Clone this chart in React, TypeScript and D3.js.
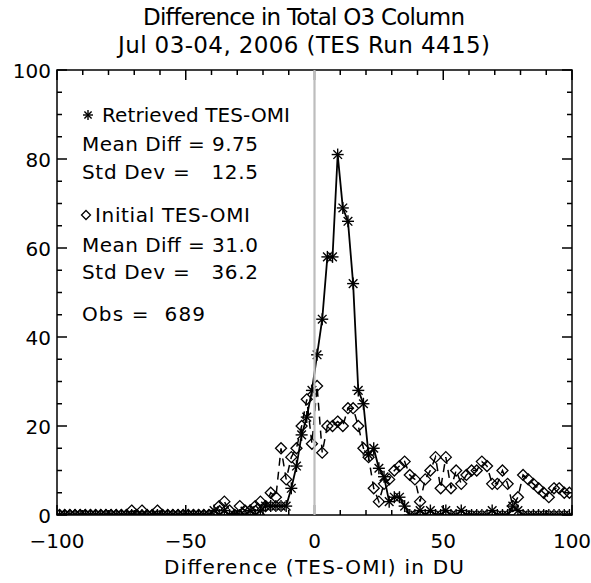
import React from "react";
import * as d3 from "d3";

// Bin centres of the histogram (2 DU bins)
const binCenters: number[] = d3.range(-99, 100, 2);

// Retrieved TES-OMI histogram counts (one per bin, from -99 to 99)
const retrieved: number[] = [
  0, 0, 0, 0, 0, 0, 0, 0, 0, 0, // -99..-81
  0, 0, 0, 0, 0, 0, 0, 0, 0, 0, // -79..-61
  0, 0, 0, 0, 0, 0, 0, 0, 0, 0, // -59..-41
  1, 0, 1, 0, 0, 0, 0, 1, 0, 1, // -39..-21
  2, 2, 2, 2, 2, 6, 11, 18, 22, 28, // -19..-1
  36, 44, 58, 58, 81, 69, 66, 52, 28, 25, // 1..19
  13.5, 15, 10.5, 8.6, 3, 4, 4, 2, 0, 0, // 21..39
  1, 0, 1, 0, 0, 1, 0, 0, 1, 0, // 41..59
  0, 0, 0, 0, 1, 0, 0, 0, 2, 1, // 61..79
  0, 0, 0, 0, 0, 0, 0, 0, 0, 0, // 81..99
];

// Initial TES-OMI histogram counts
const initial: number[] = [
  0, 0, 0, 0, 0, 0, 0, 0, 0, 0, // -99..-81
  0, 0, 0, 0, 1, 0, 1, 0, 0, 1, // -79..-61
  0, 0, 0, 0, 0, 0, 0, 0, 0, 0, // -59..-41
  0, 2, 3, 1, 0, 2, 1, 1, 2, 3, // -39..-21
  2, 5, 4, 15, 8, 13, 15, 20, 26, 16, // -19..-1
  29, 14, 20, 20, 21, 20, 24, 24, 20, 15, // 1..19
  13, 6, 3, 7, 8, 10, 11, 12, 9, 8, // 21..39
  3, 8, 10, 13, 6, 13, 6, 10, 7, 9, // 41..59
  10, 10, 12, 11, 7, 7, 10, 7, 2, 4, // 61..79
  9, 8, 7, 6, 5, 4, 6, 6, 5, 5, // 81..99
];

const xMajorTicks = [-100, -50, 0, 50, 100];
const xMinorTicks: number[] = d3.range(-100, 101, 10);
const yMajorTicks = [0, 20, 40, 60, 80, 100];
const yMinorTicks: number[] = d3.range(0, 101, 5);

const titleLines = [
  "Difference in Total O3 Column",
  "Jul 03-04, 2006 (TES Run 4415)",
];
const xLabel = "Difference (TES-OMI) in DU";
const legendRetrieved = ["Retrieved TES-OMI", "Mean Diff = 9.75", "Std Dev =   12.5"];
const legendInitial = ["Initial TES-OMI", "Mean Diff = 31.0", "Std Dev =   36.2"];
const obsText = "Obs =  689";

const W = 591;
const H = 583;
const M = { left: 57, right: 572, top: 70, bottom: 515 };
const FONT = "'DejaVu Sans', sans-serif";

function Star({ x, y, r = 6 }: { x: number; y: number; r?: number }) {
  const d = r * 0.72;
  return (
    <g stroke="#000" strokeWidth={1.4}>
      <line x1={x} y1={y - r} x2={x} y2={y + r} />
      <line x1={x - r} y1={y} x2={x + r} y2={y} />
      <line x1={x - d} y1={y - d} x2={x + d} y2={y + d} />
      <line x1={x - d} y1={y + d} x2={x + d} y2={y - d} />
    </g>
  );
}

function Diamond({ x, y, r = 5.5 }: { x: number; y: number; r?: number }) {
  return (
    <path
      d={`M${x},${y - r}L${x + r},${y}L${x},${y + r}L${x - r},${y}Z`}
      fill="none"
      stroke="#000"
      strokeWidth={1.3}
    />
  );
}

function Txt(props: { x: number; y: number; w?: number; size?: number; anchor?: string; children: string }) {
  const { x, y, w, size = 20, anchor = "start", children } = props;
  return (
    <text
      x={x}
      y={y}
      fontSize={size}
      fill="#000"
      textAnchor={anchor as any}
      style={{ whiteSpace: "pre" }}
      {...(w ? { textLength: w, lengthAdjust: "spacing" } : {})}
    >
      {children}
    </text>
  );
}

export default function App() {
  const x = d3.scaleLinear().domain([-100, 100]).range([M.left, M.right]);
  const y = d3.scaleLinear().domain([0, 100]).range([M.bottom, M.top]);

  const line = d3
    .line<number>()
    .x((_, i) => x(binCenters[i]))
    .y((d) => y(d));

  const retrievedPath = line(retrieved) || "";
  const initialPath = line(initial) || "";

  const majorLen = 10;
  const minorLen = 5;

  return (
    <svg
      width={W}
      height={H}
      style={{ position: "absolute", left: 0, top: 0, background: "#fff" }}
      fontFamily={FONT}
    >
      <rect x={0} y={0} width={W} height={H} fill="#fff" />
      <defs>
        <clipPath id="plotClip">
          <rect x={M.left} y={M.top} width={M.right - M.left} height={M.bottom - M.top} />
        </clipPath>
      </defs>

      {/* Title */}
      <Txt x={304} y={25} size={23} anchor="middle" w={322}>{titleLines[0]}</Txt>
      <Txt x={304} y={53} size={23} anchor="middle" w={372}>{titleLines[1]}</Txt>

      {/* Data */}
      <g clipPath="url(#plotClip)">
        <path d={initialPath} fill="none" stroke="#000" strokeWidth={1.5} strokeDasharray="8,6" />
        <path d={retrievedPath} fill="none" stroke="#000" strokeWidth={1.8} />
        {initial.map((v, i) => (
          <Diamond key={"d" + i} x={x(binCenters[i])} y={y(v)} />
        ))}
        {retrieved.map((v, i) => (
          <Star key={"s" + i} x={x(binCenters[i])} y={y(v)} />
        ))}
      </g>

      {/* Frame and ticks */}
      <g stroke="#000" strokeWidth={1.5} fill="none">
        <rect x={M.left} y={M.top} width={M.right - M.left} height={M.bottom - M.top} />
        {xMinorTicks.map((t) => {
          const len = xMajorTicks.includes(t) ? majorLen : minorLen;
          return (
            <g key={"xt" + t}>
              <line x1={x(t)} x2={x(t)} y1={M.bottom} y2={M.bottom - len} />
              <line x1={x(t)} x2={x(t)} y1={M.top} y2={M.top + len} />
            </g>
          );
        })}
        {yMinorTicks.map((t) => {
          const len = yMajorTicks.includes(t) ? majorLen : minorLen;
          return (
            <g key={"yt" + t}>
              <line x1={M.left} x2={M.left + len} y1={y(t)} y2={y(t)} />
              <line x1={M.right} x2={M.right - len} y1={y(t)} y2={y(t)} />
            </g>
          );
        })}
      </g>

      {/* zero line */}
      <line x1={x(0)} x2={x(0)} y1={M.top} y2={M.bottom} stroke="#bdbdbd" strokeWidth={2.2} />

      {/* Tick labels */}
      {xMajorTicks.map((t) => (
        <text key={"xl" + t} x={x(t)} y={548} textAnchor="middle" fontSize={20} fill="#000">
          {d3.format("")(t)}
        </text>
      ))}
      {yMajorTicks.map((t) => (
        <text
          key={"yl" + t}
          x={M.left - 6}
          y={y(t) + 1}
          textAnchor="end"
          dominantBaseline="central"
          fontSize={20}
          fill="#000"
        >
          {t}
        </text>
      ))}

      {/* x-axis label */}
      <Txt x={314} y={574} anchor="middle" w={300}>{xLabel}</Txt>

      {/* Legend */}
      <Star x={88} y={115} r={5} />
      <Txt x={102} y={122} w={188}>{legendRetrieved[0]}</Txt>
      <Txt x={82} y={151} w={176}>{legendRetrieved[1]}</Txt>
      <Txt x={82} y={179} w={176}>{legendRetrieved[2]}</Txt>

      <Diamond x={86} y={215} r={4.5} />
      <Txt x={95} y={222} w={155}>{legendInitial[0]}</Txt>
      <Txt x={82} y={252} w={176}>{legendInitial[1]}</Txt>
      <Txt x={82} y={279} w={176}>{legendInitial[2]}</Txt>

      <Txt x={82} y={321} w={123}>{obsText}</Txt>
    </svg>
  );
}
